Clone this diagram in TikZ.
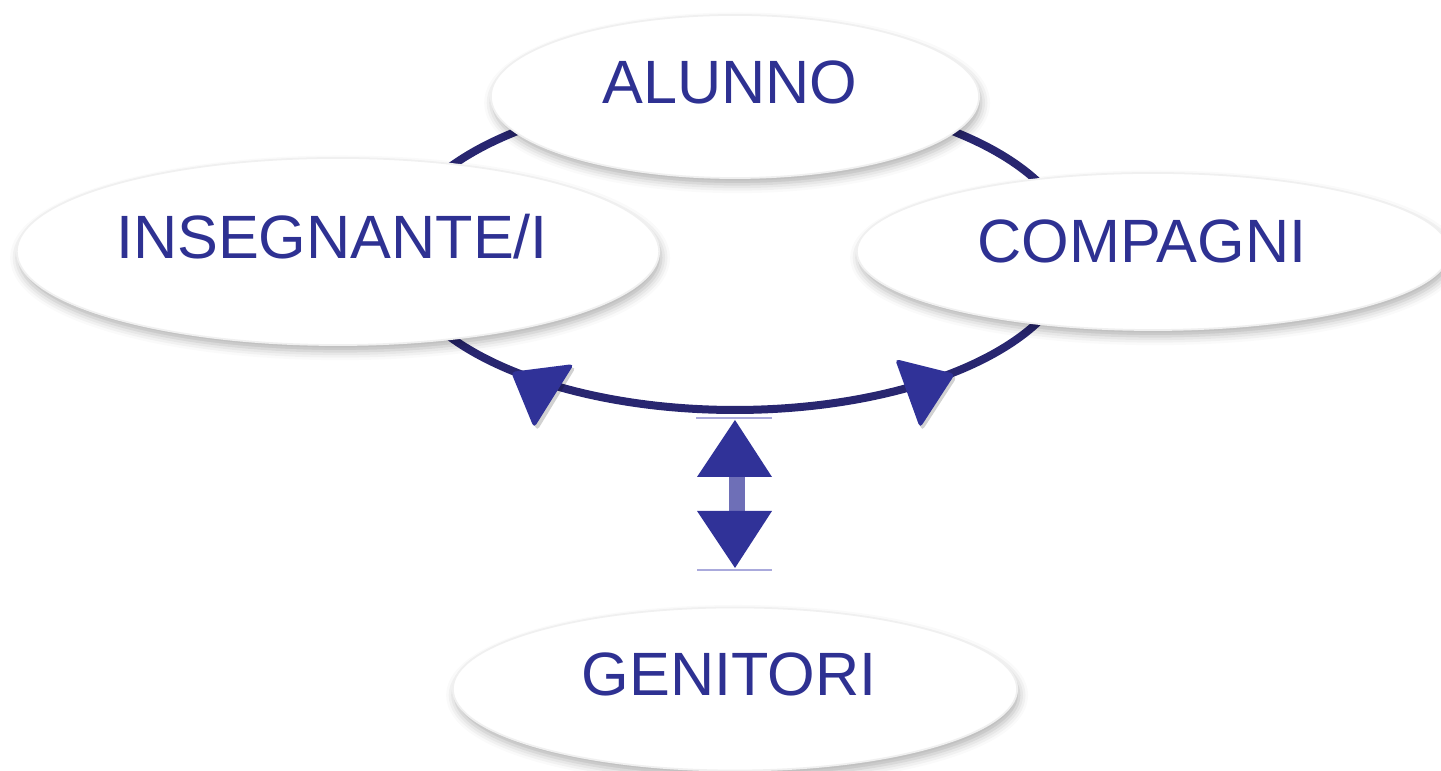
\documentclass[tikz,border=0pt]{standalone}
\usepackage{fontspec}
\setmainfont{Liberation Sans}
\usetikzlibrary{shapes.geometric,shadows.blur}
\definecolor{txtblue}{RGB}{46,49,146}
\definecolor{ringblue}{RGB}{40,38,112}
\definecolor{arrblue}{RGB}{48,50,152}
\definecolor{thinlav}{RGB}{170,170,220}
\tikzset{
  bubble/.style={ellipse, fill=white, draw=black!6, line width=0.5pt, inner sep=0pt, outer sep=0pt,
    blur shadow={shadow xshift=0.6pt, shadow yshift=-1.8pt, shadow blur radius=2.5pt, shadow opacity=30}},
  lbl/.style={anchor=base, text=txtblue, font=\fontsize{17.4}{20}\selectfont, inner sep=0pt},
  ring/.style={draw=ringblue, line width=0.08cm},
  head/.style={fill=arrblue, rounded corners=1.2pt},
  headshadow/.style={fill=black, opacity=0.18, rounded corners=1.2pt},
  dhead/.style={fill=arrblue},
}
\begin{document}
\begin{tikzpicture}[x=0.01cm,y=-0.01cm]
\useasboundingbox (0,0) rectangle (1441,771);
% ring behind the bubbles
\draw[ring] (735,252) ellipse [x radius=338, y radius=158];
% bubbles
\node[bubble, minimum width=6.42cm, minimum height=1.87cm] (ins) at (338,251.5) {};
\node[bubble, minimum width=4.88cm, minimum height=1.63cm] (alu) at (735,96.5) {};
\node[bubble, minimum width=5.92cm, minimum height=1.57cm] (com) at (1153,251.5) {};
\node[bubble, minimum width=5.64cm, minimum height=1.63cm] (gen) at (735,689) {};
% arrow heads on the ring
\fill[headshadow] (513,375) -- (576,367) -- (537,431) -- cycle;
\fill[headshadow] (897,362) -- (957,377) -- (922,431) -- cycle;
\fill[head] (511,372) -- (574,364) -- (534,428) -- cycle;
\fill[head] (895,359) -- (955,374) -- (920,428) -- cycle;
% double arrow
\draw[thinlav, line width=0.4pt] (696,418) -- (772,418);
\draw[thinlav, line width=0.4pt] (697,570) -- (772,570);
\fill[arrblue, opacity=0.7] (729,474) rectangle (745,514);
\fill[dhead] (735,420) -- (772,477) -- (697,477) -- cycle;
\fill[dhead] (697,511) -- (772,511) -- (735,568) -- cycle;
% labels
\node[lbl] (talu) at (730,104) {ALUNNO};
\node[lbl] (tins) at (332,259) {INSEGNANTE/I};
\node[lbl] (tcom) at (1142,263) {COMPAGNI};
\node[lbl] (tgen) at (729,696) {GENITORI};
\end{tikzpicture}
\end{document}
